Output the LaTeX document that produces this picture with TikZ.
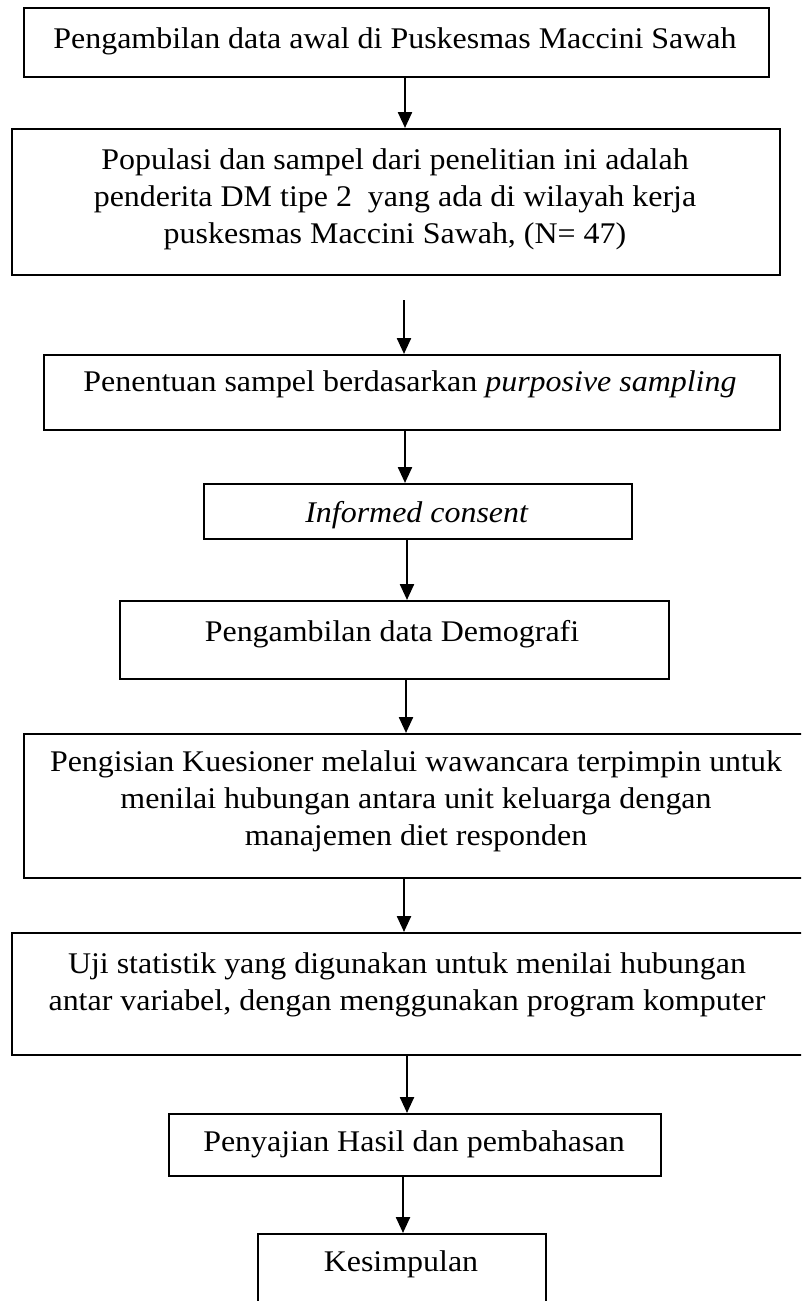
\documentclass[tikz,border=0pt]{standalone}
\usepackage{fontspec}
\setmainfont{Liberation Serif}[FakeStretch=1.065]
\usetikzlibrary{arrows.meta}
\begin{document}
\begin{tikzpicture}[x=0.4pt,y=-0.4pt,
  box/.style={draw, line width=0.85pt, inner sep=0pt, anchor=north west},
  lbl/.style={font=\fontsize{12}{14.8}\selectfont, align=center, inner sep=0pt},
  arr/.style={line width=0.95pt, -{Triangle[width=5.6pt,length=6.4pt]}}]
\useasboundingbox (0,0) rectangle (801,1301);
\clip (0,0) rectangle (801,1301);
% boxes
\node[box, minimum width=298pt,   minimum height=27.6pt] (b1) at (23,7) {};
\node[box, minimum width=307.2pt, minimum height=58.4pt] (b2) at (11,128) {};
\node[box, minimum width=294.4pt, minimum height=30pt]   (b3) at (43,354) {};
\node[box, minimum width=171.2pt, minimum height=22pt]   (b4) at (203,483) {};
\node[box, minimum width=219.6pt, minimum height=31.2pt] (b5) at (119,600) {};
\node[box, minimum width=314.8pt, minimum height=57.6pt] (b6) at (23,733) {};
\node[box, minimum width=316.8pt, minimum height=48.8pt] (b7) at (11,932) {};
\node[box, minimum width=196.8pt, minimum height=24.8pt] (b8) at (168,1113) {};
\node[box, minimum width=115.2pt, minimum height=36pt]   (b9) at (257,1233) {};
% texts
\node[lbl] (t1) at (395,41) {Pengambilan data awal di Puskesmas Maccini Sawah};
\node[lbl] (t2) at (395,199) {Populasi dan sampel dari penelitian ini adalah\\penderita DM tipe 2\ \ yang ada di wilayah kerja\\puskesmas Maccini Sawah, (N= 47)};
\node[lbl] (t3) at (410,384) {Penentuan sampel berdasarkan \textit{purposive sampling}};
\node[lbl] (t4) at (417,515) {\textit{Informed consent}};
\node[lbl] (t5) at (392,634) {Pengambilan data Demografi};
\node[lbl] (t6) at (416,801) {Pengisian Kuesioner melalui wawancara terpimpin untuk\\menilai hubungan antara unit keluarga dengan\\manajemen diet responden};
\node[lbl] (t7) at (407,985) {Uji statistik yang digunakan untuk menilai hubungan\\antar variabel, dengan menggunakan program komputer};
\node[lbl] (t8) at (414,1144) {Penyajian Hasil dan pembahasan};
\node[lbl] (t9) at (401,1264) {Kesimpulan};
% arrow x positions
\coordinate (x1) at (405,0);
\coordinate (s2) at (404,300);
\coordinate (x3) at (405,0);
\coordinate (x4) at (407,0);
\coordinate (x5) at (406,0);
\coordinate (x6) at (404,0);
\coordinate (x7) at (407,0);
\coordinate (x8) at (403,0);
% connectors
\draw[arr] (b1.south -| x1) -- (b2.north -| x1);
\draw[arr] (s2) -- (b3.north -| s2);
\draw[arr] (b3.south -| x3) -- (b4.north -| x3);
\draw[arr] (b4.south -| x4) -- (b5.north -| x4);
\draw[arr] (b5.south -| x5) -- (b6.north -| x5);
\draw[arr] (b6.south -| x6) -- (b7.north -| x6);
\draw[arr] (b7.south -| x7) -- (b8.north -| x7);
\draw[arr] (b8.south -| x8) -- (b9.north -| x8);
\end{tikzpicture}
\end{document}
